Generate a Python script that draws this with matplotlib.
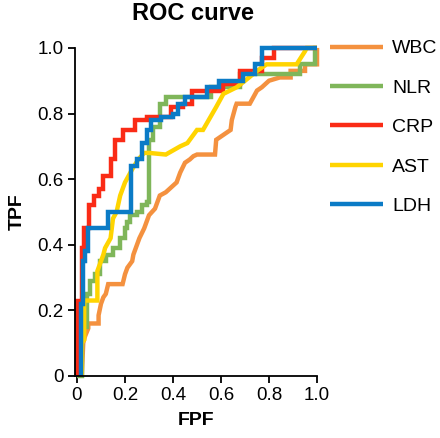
import matplotlib
matplotlib.use('Agg')
import matplotlib.pyplot as plt

plt.rcParams['font.family'] = ['Liberation Sans', 'DejaVu Sans']

# ROC 曲線資料 (FPF, TPF)
wbc_fpf = [0.02, 0.026, 0.033, 0.047, 0.047, 0.09, 0.09, 0.10, 0.11, 0.12, 0.13, 0.19, 0.20, 0.21, 0.23, 0.235,
           0.25, 0.26, 0.28, 0.29, 0.30, 0.325, 0.345, 0.37, 0.415, 0.43, 0.45, 0.47, 0.485, 0.50, 0.575, 0.58,
           0.60, 0.64, 0.645, 0.66, 0.665, 0.72, 0.75, 0.77, 0.80, 0.845, 0.89, 0.89, 0.95, 0.95, 1.0, 1.0]
wbc_tpf = [0.0, 0.10, 0.12, 0.145, 0.16, 0.16, 0.185, 0.22, 0.24, 0.25, 0.28, 0.28, 0.31, 0.33, 0.35, 0.37,
           0.40, 0.42, 0.45, 0.47, 0.49, 0.51, 0.55, 0.56, 0.59, 0.62, 0.65, 0.66, 0.67, 0.675, 0.675, 0.72,
           0.73, 0.75, 0.78, 0.82, 0.83, 0.83, 0.87, 0.88, 0.90, 0.91, 0.91, 0.93, 0.93, 0.95, 0.95, 1.0]

nlr_fpf = [0.0, 0.02, 0.02, 0.04, 0.04, 0.055, 0.055, 0.075, 0.075, 0.095, 0.095, 0.12, 0.12, 0.15, 0.15, 0.18,
           0.18, 0.20, 0.20, 0.21, 0.21, 0.22, 0.22, 0.25, 0.25, 0.27, 0.27, 0.29, 0.29, 0.30, 0.30, 0.315,
           0.315, 0.345, 0.345, 0.37, 0.37, 0.56, 0.56, 0.68, 0.68, 0.93, 0.93, 0.99, 0.99, 1.0]
nlr_tpf = [0.0, 0.0, 0.15, 0.15, 0.25, 0.25, 0.29, 0.29, 0.31, 0.31, 0.35, 0.35, 0.37, 0.37, 0.39, 0.39,
           0.42, 0.42, 0.45, 0.45, 0.47, 0.47, 0.49, 0.49, 0.50, 0.50, 0.52, 0.52, 0.53, 0.53, 0.72, 0.72,
           0.76, 0.76, 0.83, 0.83, 0.85, 0.85, 0.88, 0.88, 0.92, 0.92, 0.95, 0.95, 1.0, 1.0]

crp_fpf = [0.0, 0.0, 0.02, 0.02, 0.03, 0.03, 0.05, 0.05, 0.07, 0.07, 0.09, 0.09, 0.11, 0.11, 0.14, 0.14,
           0.16, 0.16, 0.19, 0.19, 0.24, 0.24, 0.29, 0.29, 0.39, 0.39, 0.44, 0.44, 0.48, 0.48, 0.61, 0.61,
           0.68, 0.68, 0.77, 0.77, 0.82, 0.82, 1.0]
crp_tpf = [0.0, 0.23, 0.23, 0.39, 0.39, 0.45, 0.45, 0.52, 0.52, 0.55, 0.55, 0.57, 0.57, 0.61, 0.61, 0.66,
           0.66, 0.72, 0.72, 0.75, 0.75, 0.78, 0.78, 0.79, 0.79, 0.82, 0.82, 0.83, 0.83, 0.87, 0.87, 0.89,
           0.89, 0.93, 0.93, 0.97, 0.97, 1.0, 1.0]

ast_fpf = [0.02, 0.02, 0.03, 0.03, 0.085, 0.085, 0.10, 0.11, 0.117, 0.14, 0.145, 0.15, 0.165, 0.18, 0.20,
           0.23, 0.255, 0.28, 0.30, 0.37, 0.43, 0.46, 0.50, 0.525, 0.58, 0.61, 0.665, 0.70, 0.75, 0.79, 0.915,
           0.95, 0.957, 1.0]
ast_tpf = [0.0, 0.10, 0.11, 0.23, 0.23, 0.32, 0.35, 0.37, 0.39, 0.42, 0.45, 0.48, 0.50, 0.55, 0.59,
           0.63, 0.66, 0.68, 0.68, 0.675, 0.70, 0.71, 0.75, 0.75, 0.82, 0.86, 0.88, 0.90, 0.93, 0.95, 0.95,
           0.99, 1.0, 1.0]

ldh_fpf = [0.015, 0.015, 0.025, 0.025, 0.035, 0.035, 0.047, 0.047, 0.13, 0.13, 0.225, 0.225, 0.25, 0.25,
           0.27, 0.27, 0.29, 0.29, 0.31, 0.31, 0.35, 0.35, 0.40, 0.40, 0.42, 0.42, 0.45, 0.45, 0.54, 0.54,
           0.59, 0.59, 0.69, 0.69, 0.74, 0.74, 0.77, 0.77, 1.0]
ldh_tpf = [0.0, 0.22, 0.22, 0.35, 0.35, 0.38, 0.38, 0.45, 0.45, 0.50, 0.50, 0.64, 0.64, 0.66,
           0.66, 0.71, 0.71, 0.75, 0.75, 0.78, 0.78, 0.79, 0.79, 0.80, 0.80, 0.83, 0.83, 0.85, 0.85, 0.88,
           0.88, 0.90, 0.90, 0.92, 0.92, 0.95, 0.95, 1.0, 1.0]

names = ['WBC', 'NLR', 'CRP', 'AST', 'LDH']
colors = ['#F4913F', '#7FB65A', '#FA2B16', '#FFD400', '#0B7BC6']
curves = [(wbc_fpf, wbc_tpf), (nlr_fpf, nlr_tpf), (crp_fpf, crp_tpf),
          (ast_fpf, ast_tpf), (ldh_fpf, ldh_tpf)]

ticks = [0, 0.2, 0.4, 0.6, 0.8, 1.0]
tick_labels = ['0', '0.2', '0.4', '0.6', '0.8', '1.0']

fig = plt.figure(figsize=(4.40, 4.38), dpi=100)
ax = fig.add_axes([0.1695, 0.1416, 0.551, 0.749])

for (fx, ty), name, c in zip(curves, names, colors):
    ax.plot(fx, ty, color=c, lw=3.2, label=name, solid_capstyle='butt',
            solid_joinstyle='miter', clip_on=False)

ax.set_xlim(-0.01, 1.0)
ax.set_ylim(0, 1.0)
ax.set_xticks(ticks)
ax.set_xticklabels(tick_labels)
ax.set_yticks(ticks)
ax.set_yticklabels(tick_labels)
ax.tick_params(labelsize=13.5, width=1.3, length=5, pad=3)
for s in ['top', 'right']:
    ax.spines[s].set_visible(False)
for s in ['left', 'bottom']:
    ax.spines[s].set_linewidth(1.3)

ax.set_xlabel('FPF', fontsize=14, fontweight='bold', labelpad=6)
ax.set_ylabel('TPF', fontsize=14, fontweight='bold', labelpad=8)
fig.text(0.4375, 0.969, 'ROC curve', fontsize=17, fontweight='bold', ha='center', va='center')

ax.legend(loc='upper left', bbox_to_anchor=(0.75, 0.909), bbox_transform=fig.transFigure,
          frameon=False, fontsize=14, handlelength=2.7, handletextpad=0.5,
          labelspacing=1.12, borderpad=0, borderaxespad=0)

plt.savefig('out.png', dpi=100)
